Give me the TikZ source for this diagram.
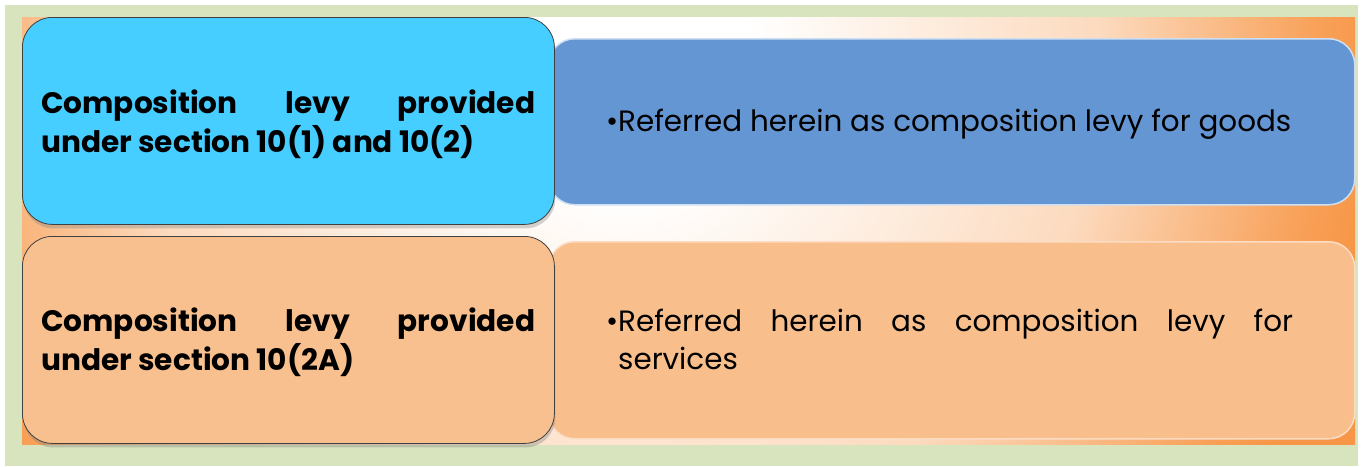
\documentclass[tikz,border=0pt]{standalone}
\usepackage{fontspec}
\setmainfont{Poppins}
\usetikzlibrary{shadows}
\definecolor{frameG}{HTML}{D7E4BD}
\definecolor{orangeC}{HTML}{F79646}
\definecolor{cyanB}{HTML}{45CEFF}
\definecolor{blueB}{HTML}{6496D4}
\definecolor{blueEdge}{HTML}{CFDFF2}
\definecolor{peachL}{HTML}{F9C08F}
\definecolor{peachR}{HTML}{F8BF8D}
\definecolor{peachEdge}{HTML}{FDDCC4}
\pgfdeclareradialshading{bgshade}{\pgfpoint{0bp}{0bp}}{color(0bp)=(white); color(3.5bp)=(white); color(12.8bp)=(orangeC!35!white); color(18.6bp)=(orangeC!90!white); color(20.2bp)=(orangeC); color(50bp)=(orangeC)}
\hyphenpenalty=10000
\tolerance=10000
\tikzset{
  leftbox/.style={draw=black!75, line width=0.8pt, rounded corners=30pt, anchor=north west, inner sep=0pt, minimum width=532pt, minimum height=207pt,
    drop shadow={opacity=0.35, shadow xshift=1pt, shadow yshift=-4pt}},
  rightbox/.style={line width=1.5pt, rounded corners=26pt, anchor=north west, inner sep=0pt, minimum width=806pt},
  lefttext/.style={anchor=base west, inner sep=0pt, text width=494pt, align=justify,
    font=\fontsize{29.6}{39}\selectfont\bfseries},
  righttext/.style={anchor=base west, inner sep=0pt, font=\fontsize{29.4}{38}\selectfont},
}
\begin{document}
\begin{tikzpicture}[x=1pt,y=-1pt]
\useasboundingbox (0,0) rectangle (1365,466);
\fill[white] (0,0) rectangle (1365,466);
\fill[frameG] (5,5) rectangle (1358,466);
\begin{scope}
\clip (22,17) rectangle (1355,444);
\shade[shading=bgshade] (620,60) circle (940pt);
\end{scope}
% right boxes
\node[rightbox, fill=blueB, draw=blueEdge, minimum height=166pt] (r1) at (548,38) {};
\node[rightbox, fill=peachR, draw=peachEdge, minimum height=197pt] (r2) at (548,241) {};
% left boxes
\node[leftbox, fill=cyanB] (l1) at (22,17) {};
\node[leftbox, fill=peachL] (l2) at (22,236) {};
% texts
\node[lefttext] (t1) at (41,113) {Composition levy provided under section 10(1) and 10(2)};
\node[lefttext] (t2) at (41,331) {Composition levy provided under section 10(2A)};
\node[righttext] (t3) at (618,131) {\llap{•}Referred herein as composition levy for goods};
\node[righttext, text width=675pt, align=justify] (t4) at (618,331) {\llap{•}Referred herein as composition levy for services};
\end{tikzpicture}
\end{document}
